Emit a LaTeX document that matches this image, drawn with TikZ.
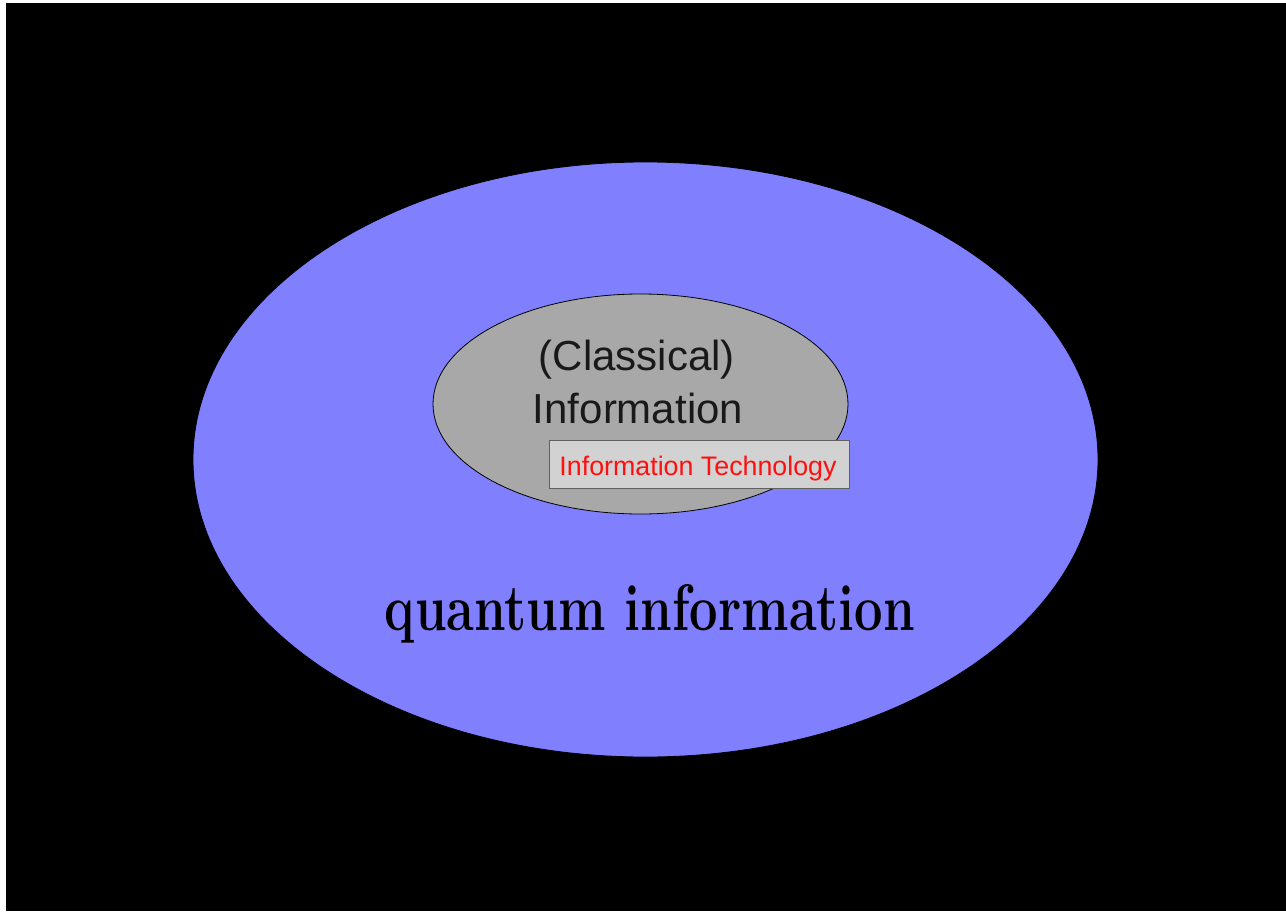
\documentclass[tikz,border=0pt]{standalone}
\usepackage{fontspec}
\setmainfont{Latin Modern Roman}
\newfontfamily\arialfont{Liberation Sans}
\usetikzlibrary{shapes.geometric}
\definecolor{outerblue}{HTML}{8080FF}
\definecolor{innergray}{HTML}{A8A8A8}
\definecolor{boxgray}{HTML}{D2D2D2}
\definecolor{boxedge}{HTML}{606060}
\definecolor{itred}{HTML}{FF1010}
\tikzset{
  oval/.style={ellipse, draw=black, line width=0.8pt, inner sep=0pt},
  labeltext/.style={font=\arialfont\fontsize{42}{50}\selectfont, text=black!90},
}
\begin{document}
\begin{tikzpicture}[x=1pt,y=-1pt]
\useasboundingbox (0,0) rectangle (1286,913);
\fill[white] (0,0) rectangle (1286,913);
\fill[black] (6,3) rectangle (1286,911);
\node[oval, fill=outerblue, minimum width=905pt, minimum height=595pt] (outer) at (645.5,459.5) {};
\node[oval, fill=innergray, minimum width=415pt, minimum height=220pt] (inner) at (640.5,404) {};
\node[labeltext, anchor=base] (classical) at (637,370) {(Classical)};
\node[labeltext, anchor=base] (information) at (638,423) {Information};
\node[draw=boxedge, line width=1pt, fill=boxgray, minimum width=300pt, minimum height=48pt, inner sep=0pt] (itbox) at (699,464) {};
\node[font=\arialfont\fontsize{26.8}{30}\selectfont, text=itred, anchor=base] (ittext) at (698,475) {Information Technology};
\node[anchor=base, inner sep=0pt] (quantum) at (650,630) {\resizebox{530pt}{!}{\scalebox{1}[1.3]{\bfseries\fontsize{56}{60}\selectfont quantum information}}};
\end{tikzpicture}
\end{document}
